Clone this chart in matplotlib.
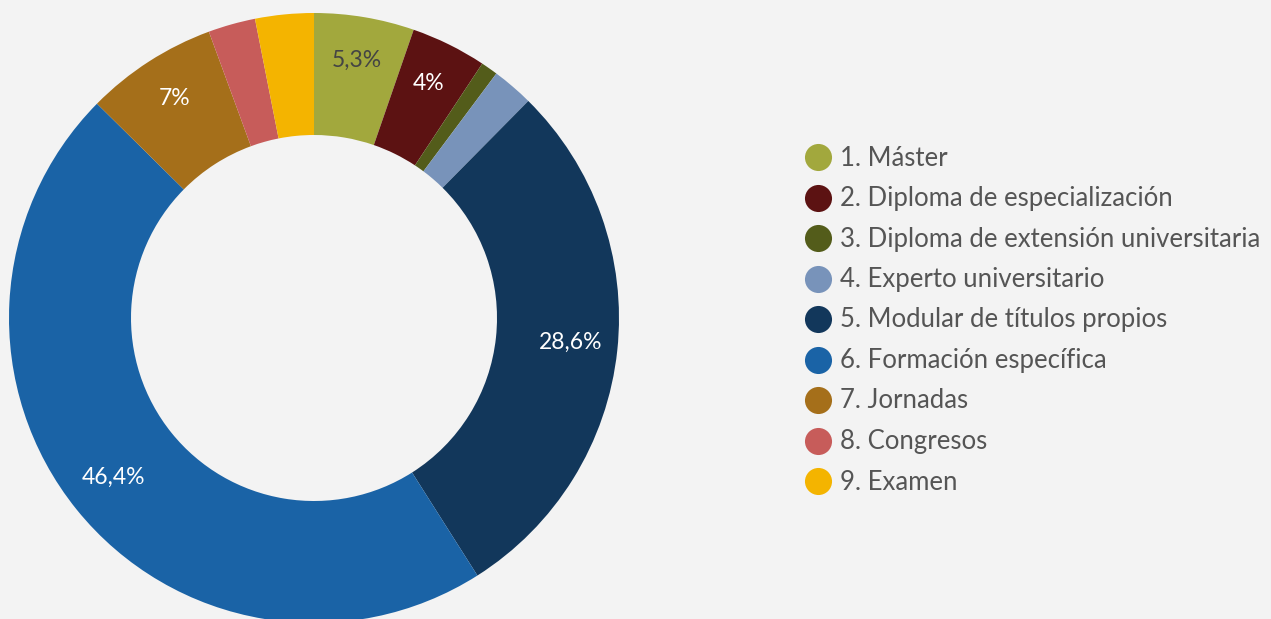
import numpy as np
import matplotlib.pyplot as plt

categories = ['1. Máster', '2. Diploma de especialización', '3. Diploma de extensión universitaria',
              '4. Experto universitario', '5. Modular de títulos propios', '6. Formación específica',
              '7. Jornadas', '8. Congresos', '9. Examen']
values = [5.3, 4.0, 0.9, 2.2, 28.6, 46.4, 7.0, 2.5, 3.1]
labels = ['5,3%', '4%', '', '', '28,6%', '46,4%', '7%', '', '']
colors = ['#A2A83D', '#5C1212', '#535C1A', '#7893BA', '#12375B', '#1A63A6', '#A56F1A', '#C75C5A', '#F4B400']
label_colors = ['#444444', 'white', 'white', 'white', 'white', 'white', 'white', 'white', 'white']

bg = '#F3F3F3'
plt.rcParams['font.family'] = ['Lato', 'DejaVu Sans']

fig = plt.figure(figsize=(12.71, 6.19), dpi=100, facecolor=bg)
ax = fig.add_axes([0, 0, 1, 1])
ax.set_facecolor(bg)

wedges, _ = ax.pie(values, colors=colors, startangle=90, counterclock=False,
                   center=(314, 301), radius=305,
                   wedgeprops=dict(width=122, edgecolor='none'))

# pie resets the limits, so set them afterwards
ax.set_xlim(0, 1271)
ax.set_ylim(0, 619)
ax.set_aspect('equal')
ax.axis('off')

total = sum(values)
cum = 0
for v, lab, lc in zip(values, labels, label_colors):
    mid = (cum + v / 2) / total * 360
    cum += v
    if not lab:
        continue
    ang = np.deg2rad(90 - mid)
    r = 258
    ax.text(314 + r * np.cos(ang), 301 + r * np.sin(ang) + 3, lab, color=lc,
            fontsize=16.5, ha='center', va='center')

for i, (cat, c) in enumerate(zip(categories, colors)):
    y = 619 - (157 + i * 40.5)
    ax.scatter([818], [y], s=380, color=c, linewidths=0)
    ax.text(840, y - 1, cat, color='#555555', fontsize=18.5,
            ha='left', va='center')

fig.savefig('out.png', dpi=100, facecolor=bg)
